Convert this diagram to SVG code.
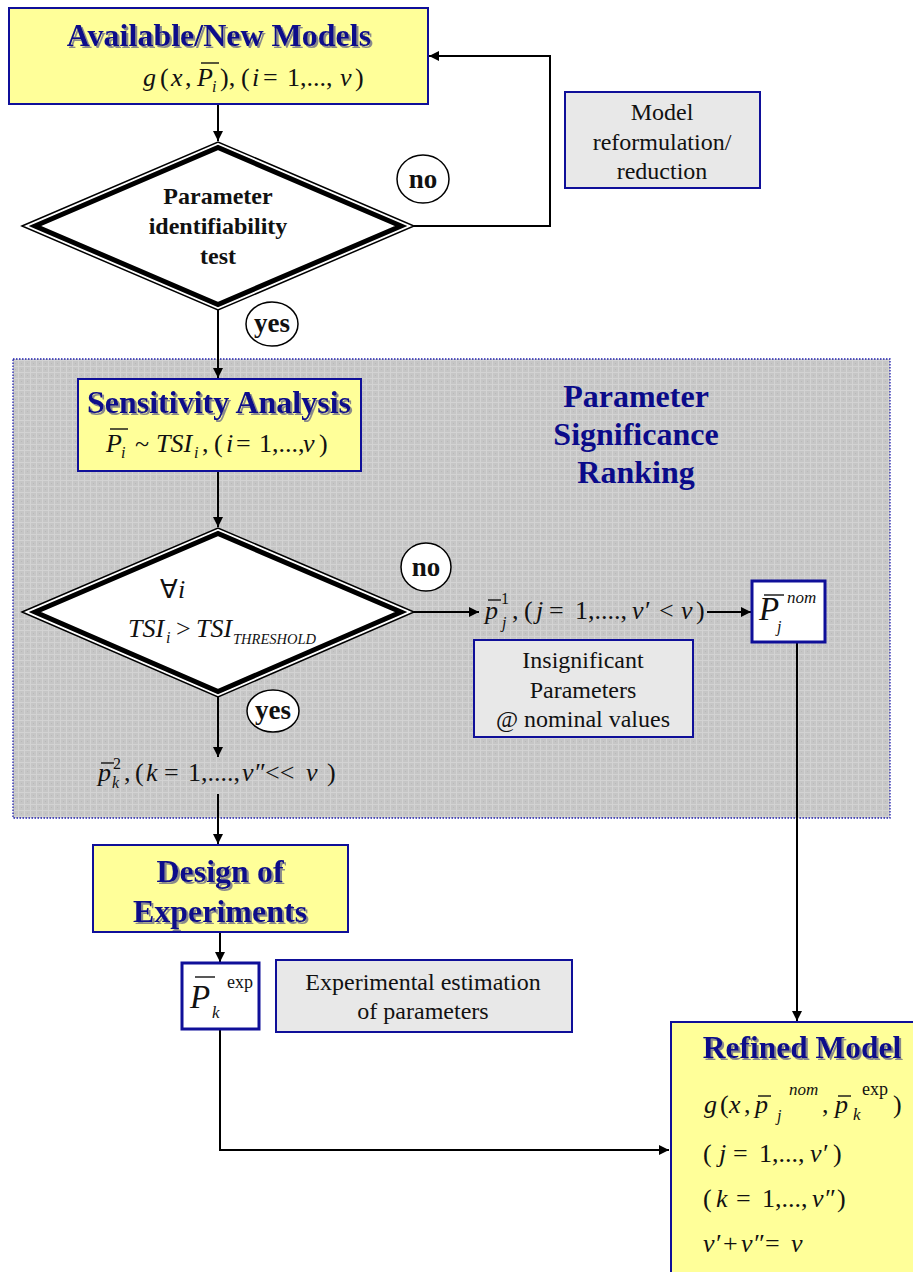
<svg xmlns="http://www.w3.org/2000/svg" width="913" height="1272" viewBox="0 0 913 1272">
<defs>
<style>
.ybox{fill:#ffff99;stroke:#0f0f99;stroke-width:2}
.gbox{fill:#e8e8e8;stroke:#0f0f99;stroke-width:2}
.wbox{fill:#ffffff;stroke:#0f0f99;stroke-width:3}
.title{font-family:"Liberation Serif",serif;font-weight:bold;fill:#0b0b8a;text-anchor:middle}
.shd{filter:url(#sh)}
.lbl{font-family:"Liberation Serif",serif;font-size:24px;fill:#111;text-anchor:middle}
.dtxt{font-family:"Liberation Serif",serif;font-size:24px;font-weight:bold;fill:#111;text-anchor:middle}
.ctxt{font-family:"Liberation Serif",serif;font-size:27px;font-weight:bold;fill:#111;text-anchor:middle}
.m{font-family:"Liberation Serif",serif;font-size:26px;fill:#111}
.i{font-style:italic}
.sub{font-size:16px}
.bar{stroke:#111;stroke-width:1.4}
.conn{fill:none;stroke:#000;stroke-width:2}
.circ{fill:#fff;stroke:#000;stroke-width:1.5}
.dthin{fill:#fff;stroke:#000;stroke-width:1.5}
.dthick{fill:none;stroke:#000;stroke-width:5}
</style>
<filter id="sh" x="-5%" y="-20%" width="110%" height="140%">
<feDropShadow dx="2" dy="2" stdDeviation="0" flood-color="#8a8a8a"/>
</filter>
<pattern id="tex" width="6" height="6" patternUnits="userSpaceOnUse">
<rect width="6" height="6" fill="#c6c6c6"/>
<path d="M0 0.5H6M0.5 0V6" stroke="#d3d3d3" stroke-width="1"/>
<rect x="3" y="3" width="1" height="1" fill="#b9b9b9"/>
</pattern>
<marker id="ah" viewBox="0 0 10 10" refX="10" refY="5" markerWidth="10" markerHeight="10" markerUnits="userSpaceOnUse" orient="auto">
<path d="M0 0L10 5L0 10Z" fill="#000"/>
</marker>
</defs>

<rect width="913" height="1272" fill="#fff"/>

<g id="region-ranking">
<rect x="13" y="359" width="877" height="459" fill="url(#tex)" stroke="#2020b0" stroke-width="1.3" stroke-dasharray="1.5 1.5"/>
<text class="title" font-size="32"><tspan x="636" y="407">Parameter</tspan><tspan x="636" y="445">Significance</tspan><tspan x="636" y="483">Ranking</tspan></text>
</g>

<g id="connectors">
<path class="conn" d="M218 104V141" marker-end="url(#ah)"/>
<path class="conn" d="M414 226H550V56H429" marker-end="url(#ah)"/>
<path class="conn" d="M218 310V378" marker-end="url(#ah)"/>
<path class="conn" d="M218 471V527" marker-end="url(#ah)"/>
<path class="conn" d="M414 612H479" marker-end="url(#ah)"/>
<path class="conn" d="M707 612H751" marker-end="url(#ah)"/>
<path class="conn" d="M218 697V757" marker-end="url(#ah)"/>
<path class="conn" d="M218 794V844" marker-end="url(#ah)"/>
<path class="conn" d="M220 932V962" marker-end="url(#ah)"/>
<path class="conn" d="M220 1029V1150H669" marker-end="url(#ah)"/>
<path class="conn" d="M797 642V1021" marker-end="url(#ah)"/>
</g>

<g id="available-models">
<rect class="ybox" x="9" y="8" width="419" height="96"/>
<text class="title shd" x="219" y="46" font-size="32">Available/New Models</text>
<text class="m"><tspan class="i" x="143" y="86">g</tspan><tspan x="160">(</tspan><tspan class="i" x="171">x</tspan><tspan x="185">,</tspan><tspan class="i" x="197">P</tspan><tspan class="i sub" x="212" y="92">i</tspan><tspan x="220" y="86">),</tspan><tspan x="241">(</tspan><tspan class="i" x="252">i</tspan><tspan x="263">=</tspan><tspan x="287">1,...,</tspan><tspan class="i" x="340">v</tspan><tspan x="355">)</tspan></text>
<line class="bar" x1="201" y1="63" x2="219" y2="63"/>
</g>

<g id="identifiability-test">
<polygon class="dthin" points="22,226 218,142 414,226 218,310"/>
<polygon class="dthick" points="35,226 218,147.5 401,226 218,304.5"/>
<text class="dtxt"><tspan x="218" y="204">Parameter</tspan><tspan x="218" y="234">identifiability</tspan><tspan x="218" y="264">test</tspan></text>
</g>

<g id="no-1">
<ellipse class="circ" cx="423" cy="179" rx="26" ry="24"/>
<text class="ctxt" x="423" y="188">no</text>
</g>

<g id="model-reformulation">
<rect class="gbox" x="565" y="92" width="195" height="96"/>
<text class="lbl"><tspan x="662" y="120">Model</tspan><tspan x="662" y="150">reformulation/</tspan><tspan x="662" y="179">reduction</tspan></text>
</g>

<g id="yes-1">
<ellipse class="circ" cx="272" cy="324" rx="26" ry="22"/>
<text class="ctxt" x="272" y="332">yes</text>
</g>

<g id="sensitivity-analysis">
<rect class="ybox" x="78" y="379" width="283" height="92"/>
<text class="title shd" x="219" y="413" font-size="32">Sensitivity Analysis</text>
<text class="m"><tspan class="i" x="106" y="452">P</tspan><tspan class="i sub" x="121" y="458">i</tspan><tspan x="135" y="452">~</tspan><tspan class="i" x="156">TSI</tspan><tspan class="i sub" x="194" y="458">i</tspan><tspan x="202" y="452">,</tspan><tspan x="214">(</tspan><tspan class="i" x="226">i</tspan><tspan x="236">=</tspan><tspan x="259">1,...,</tspan><tspan class="i" x="303">v</tspan><tspan x="319">)</tspan></text>
<line class="bar" x1="110" y1="429" x2="128" y2="429"/>
</g>

<g id="threshold-test">
<polygon class="dthin" points="22,612 218,528 414,612 218,697"/>
<polygon class="dthick" points="35,612 218,533.5 401,612 218,691.5"/>
<text class="m"><tspan x="160" y="598">∀</tspan><tspan class="i" x="178">i</tspan></text>
<text class="m"><tspan class="i" x="128" y="637">TSI</tspan><tspan class="i sub" x="166" y="643">i</tspan><tspan x="176" y="637">&gt;</tspan><tspan class="i" x="196">TSI</tspan><tspan class="i" x="233" y="644" font-size="14.5">THRESHOLD</tspan></text>
</g>

<g id="no-2">
<ellipse class="circ" cx="426" cy="567" rx="25" ry="24"/>
<text class="ctxt" x="426" y="576">no</text>
</g>

<g id="insignificant-set">
<text class="m" font-size="27"><tspan class="i" x="485" y="619">p</tspan><tspan class="sub" x="501" y="604">1</tspan><tspan class="i sub" x="502" y="628">j</tspan><tspan x="512" y="619">,</tspan><tspan x="524">(</tspan><tspan class="i" x="536">j</tspan><tspan x="549">=</tspan><tspan x="575">1,....,</tspan><tspan class="i" x="632">v′</tspan><tspan x="659">&lt;</tspan><tspan class="i" x="681">v</tspan><tspan x="696">)</tspan></text>
<line class="bar" x1="488" y1="600" x2="501" y2="600"/>
</g>

<g id="p-nom">
<rect class="wbox" x="752" y="581" width="73" height="61"/>
<text class="m"><tspan class="i" x="759" y="620" font-size="33">P</tspan><tspan class="i" x="777" y="632" font-size="16">j</tspan><tspan class="i" x="787" y="603" font-size="17">nom</tspan></text>
<line class="bar" x1="764" y1="595" x2="784" y2="595"/>
</g>

<g id="insignificant-note">
<rect class="gbox" x="474" y="640" width="219" height="97"/>
<text class="lbl"><tspan x="583" y="668">Insignificant</tspan><tspan x="583" y="698">Parameters</tspan><tspan x="583" y="727">@ nominal values</tspan></text>
</g>

<g id="yes-2">
<ellipse class="circ" cx="273" cy="711" rx="26" ry="21"/>
<text class="ctxt" x="273" y="719">yes</text>
</g>

<g id="significant-set">
<text class="m" font-size="27"><tspan class="i" x="98" y="781">p</tspan><tspan class="sub" x="113" y="769">2</tspan><tspan class="i sub" x="112" y="788">k</tspan><tspan x="124" y="781">,</tspan><tspan x="135">(</tspan><tspan class="i" x="146">k</tspan><tspan x="164">=</tspan><tspan x="188">1,....,</tspan><tspan class="i" x="242">v″</tspan><tspan x="265">&lt;&lt;</tspan><tspan class="i" x="306">v</tspan><tspan x="327">)</tspan></text>
<line class="bar" x1="101" y1="763" x2="114" y2="763"/>
</g>

<g id="design-of-experiments">
<rect class="ybox" x="93" y="845" width="255" height="87"/>
<text class="title shd" font-size="32"><tspan x="220" y="882">Design of</tspan><tspan x="220" y="922">Experiments</tspan></text>
</g>

<g id="p-exp">
<rect class="wbox" x="182" y="963" width="77" height="66"/>
<text class="m"><tspan class="i" x="190" y="1008" font-size="33">P</tspan><tspan class="i" x="212" y="1018" font-size="17">k</tspan><tspan x="227" y="988" font-size="18">exp</tspan></text>
<line class="bar" x1="195" y1="977" x2="215" y2="977"/>
</g>

<g id="experimental-note">
<rect class="gbox" x="276" y="960" width="296" height="72"/>
<text class="lbl"><tspan x="423" y="990">Experimental estimation</tspan><tspan x="423" y="1019">of parameters</tspan></text>
</g>

<g id="refined-model">
<rect class="ybox" x="671" y="1022" width="260" height="270"/>
<text class="title shd" x="802" y="1058" font-size="31.5">Refined Model</text>
<text class="m" font-size="27"><tspan class="i" x="704" y="1113">g</tspan><tspan x="720">(</tspan><tspan class="i" x="729">x</tspan><tspan x="744">,</tspan><tspan class="i" x="755">p</tspan><tspan class="i sub" x="777" y="1121">j</tspan><tspan class="i" x="789" y="1095" font-size="17">nom</tspan><tspan x="822" y="1113">,</tspan><tspan class="i" x="835">p</tspan><tspan class="i" x="853" y="1120" font-size="17">k</tspan><tspan x="862" y="1095" font-size="18">exp</tspan><tspan x="893" y="1113">)</tspan></text>
<line class="bar" x1="758" y1="1096" x2="771" y2="1096"/>
<line class="bar" x1="838" y1="1096" x2="851" y2="1096"/>
<text class="m" font-size="27"><tspan x="703" y="1162">(</tspan><tspan class="i" x="719">j</tspan><tspan x="733">=</tspan><tspan x="759">1,...,</tspan><tspan class="i" x="810">v′</tspan><tspan x="833">)</tspan></text>
<text class="m" font-size="27"><tspan x="703" y="1207">(</tspan><tspan class="i" x="716">k</tspan><tspan x="736">=</tspan><tspan x="762">1,...,</tspan><tspan class="i" x="812">v″</tspan><tspan x="837">)</tspan></text>
<text class="m" font-size="27"><tspan class="i" x="703" y="1252">v′</tspan><tspan x="723">+</tspan><tspan class="i" x="741">v″</tspan><tspan x="765">=</tspan><tspan class="i" x="791">v</tspan></text>
</g>
</svg>
